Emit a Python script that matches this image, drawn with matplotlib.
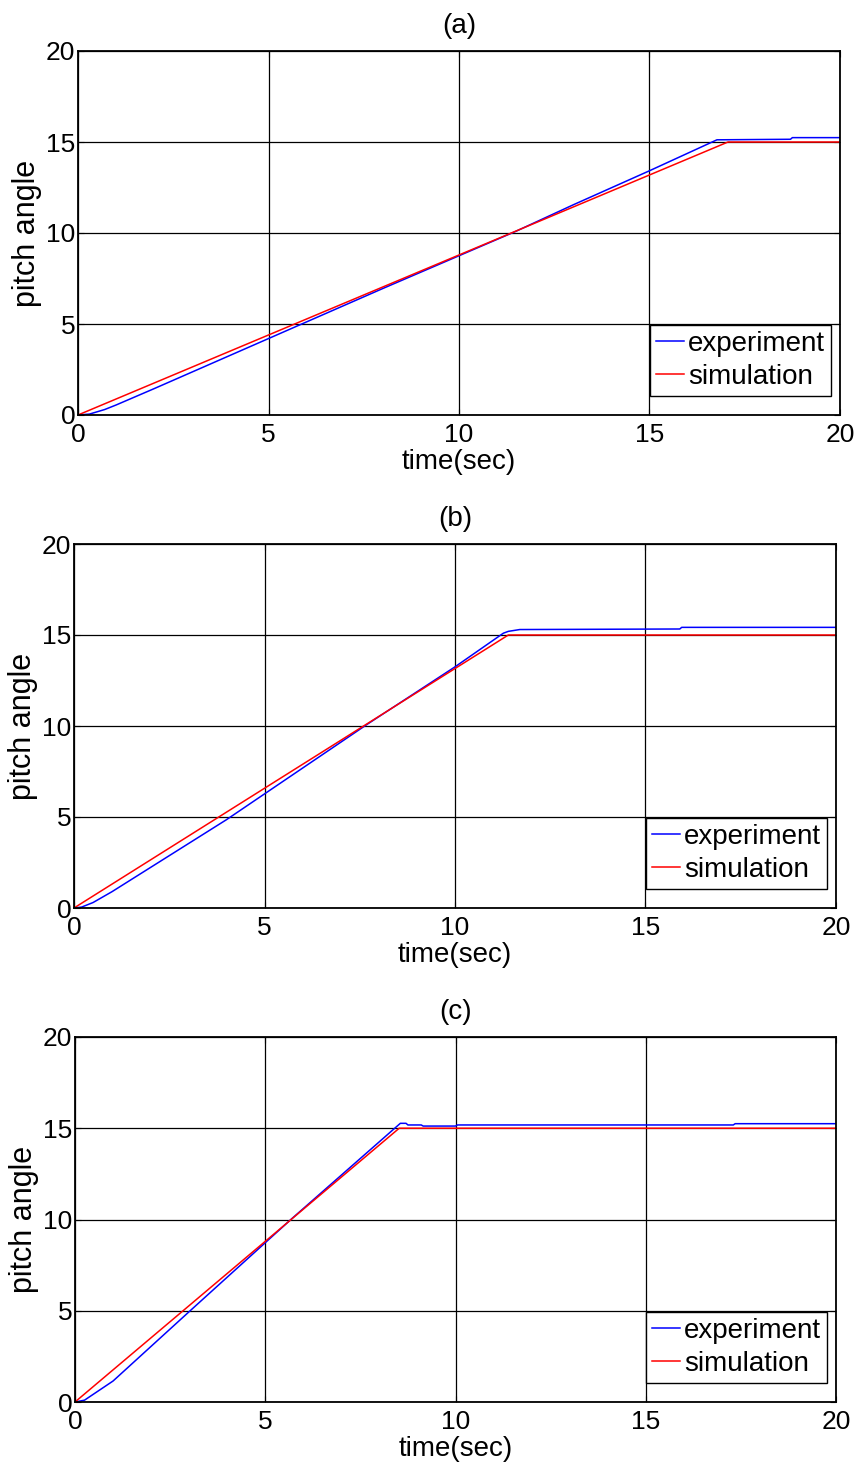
import matplotlib
matplotlib.use('Agg')
import matplotlib.pyplot as plt

plt.rcParams['font.family'] = ['Liberation Sans', 'DejaVu Sans']

# ---------------- data ----------------
panel_titles = ['(a)', '(b)', '(c)']
x_ticks = [0, 5, 10, 15, 20]
y_ticks = [0, 5, 10, 15, 20]
x_label = 'time(sec)'
y_label = 'pitch angle'
legend_labels = ['experiment', 'simulation']

# panel (a)
exp_a_t = [0, 0.3, 0.7, 1.0, 2.0, 5.0, 8.0, 10.0, 11.5, 13.0, 15.0, 16.77, 18.7, 18.75, 20.0]
exp_a_y = [0, 0.05, 0.3, 0.55, 1.45, 4.2, 6.95, 8.75, 10.1, 11.55, 13.42, 15.12, 15.15, 15.24, 15.24]
sim_a_t = [0, 17.06, 20.0]
sim_a_y = [0, 15.0, 15.0]

# panel (b)
exp_b_t = [0, 0.2, 0.5, 1.0, 4.0, 7.7, 10.0, 11.27, 11.4, 11.7, 15.9, 15.95, 20.0]
exp_b_y = [0, 0.05, 0.3, 0.9, 4.85, 10.1, 13.25, 15.1, 15.2, 15.3, 15.33, 15.42, 15.42]
sim_b_t = [0, 11.4, 20.0]
sim_b_y = [0, 15.0, 15.0]

# panel (c)
exp_c_t = [0, 0.25, 0.5, 1.0, 3.0, 5.7, 8.55, 8.7, 8.75, 9.1, 9.15, 10.0, 10.05, 17.3, 17.35, 20.0]
exp_c_y = [0, 0.1, 0.45, 1.15, 4.95, 10.05, 15.27, 15.27, 15.18, 15.18, 15.12, 15.12, 15.18, 15.18, 15.25, 15.25]
sim_c_t = [0, 8.52, 20.0]
sim_c_y = [0, 15.0, 15.0]

experiments = [(exp_a_t, exp_a_y), (exp_b_t, exp_b_y), (exp_c_t, exp_c_y)]
simulations = [(sim_a_t, sim_a_y), (sim_b_t, sim_b_y), (sim_c_t, sim_c_y)]

# ---------------- layout ----------------
W, H = 859, 1465
boxes = [(78, 840, 51, 415), (74, 836, 544, 908), (75, 836, 1037, 1402)]

fig = plt.figure(figsize=(W / 100, H / 100), dpi=100)
fig.patch.set_facecolor('white')

for i, (l, r, t, b) in enumerate(boxes):
    ax = fig.add_axes([l / W, (H - b) / H, (r - l) / W, (b - t) / H])
    et, ey = experiments[i]
    st, sy = simulations[i]
    ax.plot(et, ey, color='#0000ff', lw=1.1, label=legend_labels[0])
    ax.plot(st, sy, color='#ff0000', lw=1.1, label=legend_labels[1])
    ax.set_xlim(0, 20)
    ax.set_ylim(0, 20)
    ax.set_xticks(x_ticks)
    ax.set_yticks(y_ticks)
    ax.set_axisbelow(True)
    ax.grid(True, color='black', lw=0.9)
    ax.tick_params(direction='in', length=4, width=0.8, labelsize=19,
                   top=True, right=True)
    ax.tick_params(axis='x', pad=6)
    ax.tick_params(axis='y', pad=2)
    for s in ax.spines.values():
        s.set_linewidth(1.3)
    ax.set_xlabel(x_label, fontsize=20, labelpad=1)
    ax.set_ylabel(y_label, fontsize=22, labelpad=3)
    ax.set_title(panel_titles[i], fontsize=20, pad=13)
    leg = ax.legend(loc='lower right', bbox_to_anchor=(0.988, 0.052), borderaxespad=0,
                    fancybox=False, framealpha=1, edgecolor='black', fontsize=20,
                    handlelength=1.0, handletextpad=0.15, labelspacing=0.25,
                    borderpad=0.22)
    leg.get_frame().set_linewidth(1.0)

fig.savefig('out.png', dpi=100, facecolor='white')
